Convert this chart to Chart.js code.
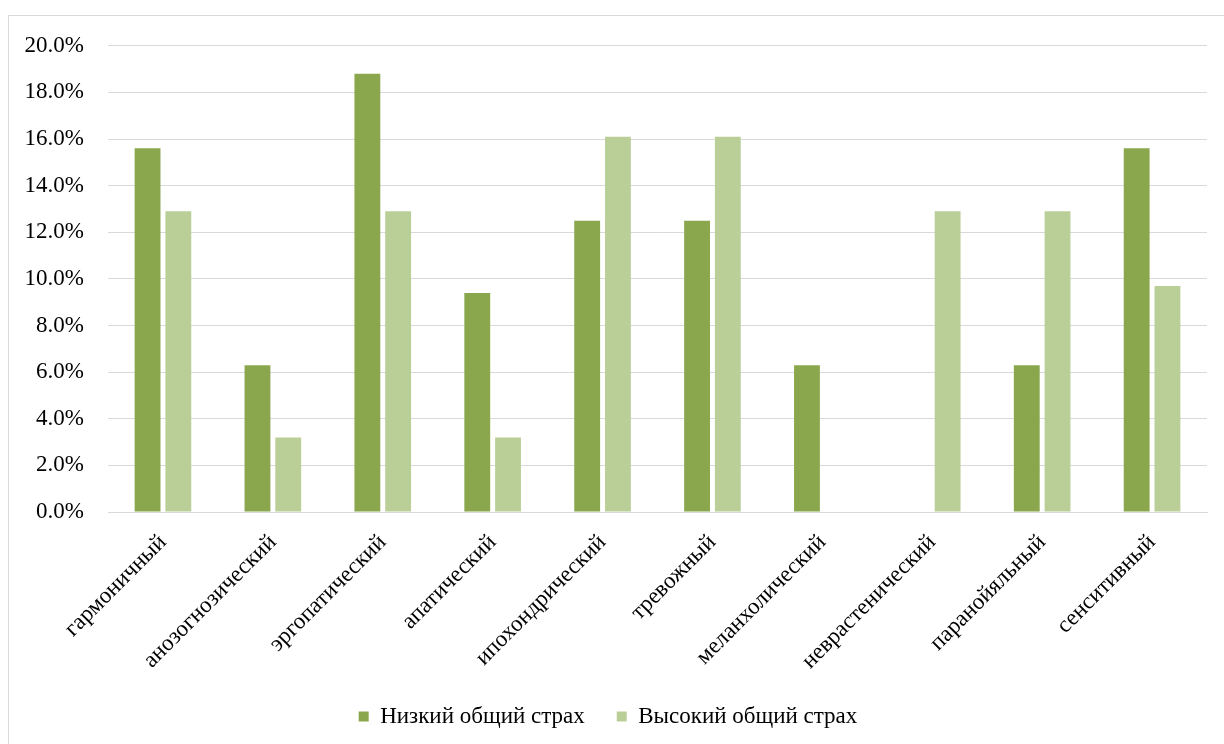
<!DOCTYPE html>
<html lang="ru">
<head>
<meta charset="utf-8">
<title>Типы отношения к болезни</title>
<script src="https://cdn.jsdelivr.net/npm/chart.js@4/dist/chart.umd.min.js"></script>
<style>
    html, body { margin: 0; padding: 0; background: #fff; overflow: hidden; }
    .frame {
        position: absolute;
        left: 8px;
        top: 15px;
        width: 1240px;
        height: 760px;
        border: 1px solid #D9D9D9;
        box-sizing: border-box;
    }
    .chart-box {
        position: absolute;
        left: 9px;
        top: 8px;
        width: 1215px;
        height: 736px;
    }
</style>
</head>
<body>
<div class="frame"></div>
<div class="chart-box"><canvas id="fearChart"></canvas></div>
<script>
const categories = [
    'гармоничный', 'анозогнозический', 'эргопатический', 'апатический',
    'ипохондрический', 'тревожный', 'меланхолический', 'неврастенический',
    'паранойяльный', 'сенситивный'
];
const seriesNames = ['Низкий общий страх', 'Высокий общий страх'];
const lowFear = [15.6, 6.3, 18.8, 9.4, 12.5, 12.5, 6.3, 0, 6.3, 15.6];
const highFear = [12.9, 3.2, 12.9, 3.2, 16.1, 16.1, 0, 12.9, 12.9, 9.7];
const yTicks = [0, 2, 4, 6, 8, 10, 12, 14, 16, 18, 20];

const FONT = { family: '"Liberation Serif", "Times New Roman", serif', size: 23 };

const ctx = document.getElementById('fearChart').getContext('2d');
new Chart(ctx, {
    type: 'bar',
    data: {
        labels: categories,
        datasets: [
            { label: seriesNames[0], data: lowFear, backgroundColor: '#8AA74E', borderWidth: 0 },
            { label: seriesNames[1], data: highFear, backgroundColor: '#BACF98', borderWidth: 0 }
        ]
    },
    options: {
        responsive: true,
        maintainAspectRatio: false,
        animation: false,
        categoryPercentage: 0.56,
        barPercentage: 0.84,
        layout: { padding: { left: 0, right: 17, top: 0, bottom: 6 } },
        plugins: {
            legend: {
                position: 'bottom',
                labels: {
                    font: FONT,
                    color: '#000',
                    boxWidth: 10,
                    boxHeight: 10,
                    padding: 32
                }
            },
            tooltip: { enabled: false }
        },
        scales: {
            x: {
                grid: { display: false },
                border: { color: '#D9D9D9', width: 1 },
                ticks: {
                    font: FONT,
                    color: '#000',
                    minRotation: 45,
                    maxRotation: 45,
                    autoSkip: false,
                    padding: 9
                },
                afterFit: function (scale) { scale.height = 161; }
            },
            y: {
                min: 0,
                max: 20,
                afterBuildTicks: function (scale) {
                    scale.ticks = yTicks.map(function (v) { return { value: v }; });
                },
                grid: { color: '#D9D9D9', lineWidth: 1, drawTicks: false },
                border: { display: false },
                ticks: {
                    font: FONT,
                    color: '#000',
                    padding: 24,
                    callback: function (value) { return value.toFixed(1) + '%'; }
                },
                afterFit: function (scale) { scale.width = 99; }
            }
        }
    }
});
</script>
</body>
</html>
